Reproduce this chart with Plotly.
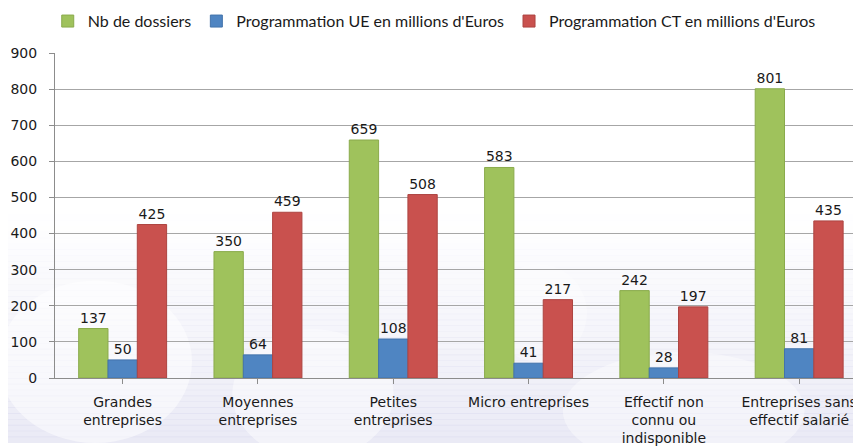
import plotly.graph_objects as go

categories = ["Grandes<br>entreprises", "Moyennes<br>entreprises", "Petites<br>entreprises",
              "Micro entreprises", "Effectif non<br>connu ou<br>indisponible",
              "Entreprises sans<br>effectif salarié"]
nb_dossiers = [137, 350, 659, 583, 242, 801]
prog_ue = [50, 64, 108, 41, 28, 81]
prog_ct = [425, 459, 508, 217, 197, 435]
series_names = ["Nb de dossiers", "Programmation UE en millions d'Euros",
                "Programmation CT en millions d'Euros"]
colors = ["#9fc25c", "#4f85c2", "#c9514e"]
line_colors = ["#8aab4c", "#4373ab", "#ad4441"]

x = list(range(len(categories)))
fig = go.Figure()
for name, vals, c, lc in zip(series_names, [nb_dossiers, prog_ue, prog_ct], colors, line_colors):
    fig.add_trace(go.Bar(
        x=x, y=vals, name=name, marker=dict(color=c, line=dict(color=lc, width=1)),
        text=[str(v) for v in vals], textposition="outside", cliponaxis=False,
        textfont=dict(family="DejaVu Sans", size=14, color="#1a1a1a"),
    ))

# faint background tint
shapes = []
n = 40
for i in range(n):
    y0 = i / n * 0.72
    y1 = (i + 1) / n * 0.72
    a = 0.42 * (1 - i / n) ** 1.2
    shapes.append(dict(type="rect", xref="paper", yref="paper", x0=-0.07, x1=1.0,
                       y0=-0.2 + y0, y1=-0.2 + y1 + 0.002,
                       fillcolor=f"rgba(205,205,232,{a:.3f})", line=dict(width=0),
                       layer="below"))
for (cx, cy, rx, ry, a) in [(0.05, 0.05, 0.12, 0.25, 0.5), (0.32, -0.05, 0.1, 0.2, 0.45),
                            (0.78, -0.1, 0.15, 0.18, 0.4), (0.6, 0.2, 0.06, 0.15, 0.3)]:
    shapes.append(dict(type="circle", xref="paper", yref="paper", x0=cx - rx, x1=cx + rx,
                       y0=cy - ry, y1=cy + ry, fillcolor=f"rgba(255,255,255,{a})",
                       line=dict(width=0), layer="below"))

fig.update_layout(
    width=853, height=440,
    margin=dict(l=47, r=0, t=45, b=70, autoexpand=False),
    paper_bgcolor="white", plot_bgcolor="rgba(0,0,0,0)",
    barmode="group", bargap=0.35, bargroupgap=0,
    shapes=shapes,
    legend=dict(orientation="h", x=-0.009, xanchor="left", y=1.098, yref="paper",
                yanchor="middle", font=dict(family="Lato", size=16, color="#1a1a1a"),
                itemwidth=30, tracegroupgap=0, bgcolor="rgba(0,0,0,0)"),
    xaxis=dict(range=[-0.5, 5.457], tickmode="array", tickvals=x, ticktext=categories,
               showgrid=False, showline=True, linecolor="#8c8c8c", linewidth=1,
               ticks="outside", tickson="boundaries", ticklen=5, tickcolor="#8c8c8c",
               automargin=False, ticklabelstandoff=6,
               tickfont=dict(family="DejaVu Sans", size=14, color="#1a1a1a")),
    yaxis=dict(range=[0, 900], dtick=100, showgrid=True, gridcolor="#a6a6a6", gridwidth=1,
               showline=True, linecolor="#8c8c8c", ticks="outside", ticklen=5,
               tickcolor="#8c8c8c", zeroline=False, automargin=False, ticklabelstandoff=9,
               tickfont=dict(family="DejaVu Sans", size=14, color="#1a1a1a")),
)
fig.write_html("out.html")
